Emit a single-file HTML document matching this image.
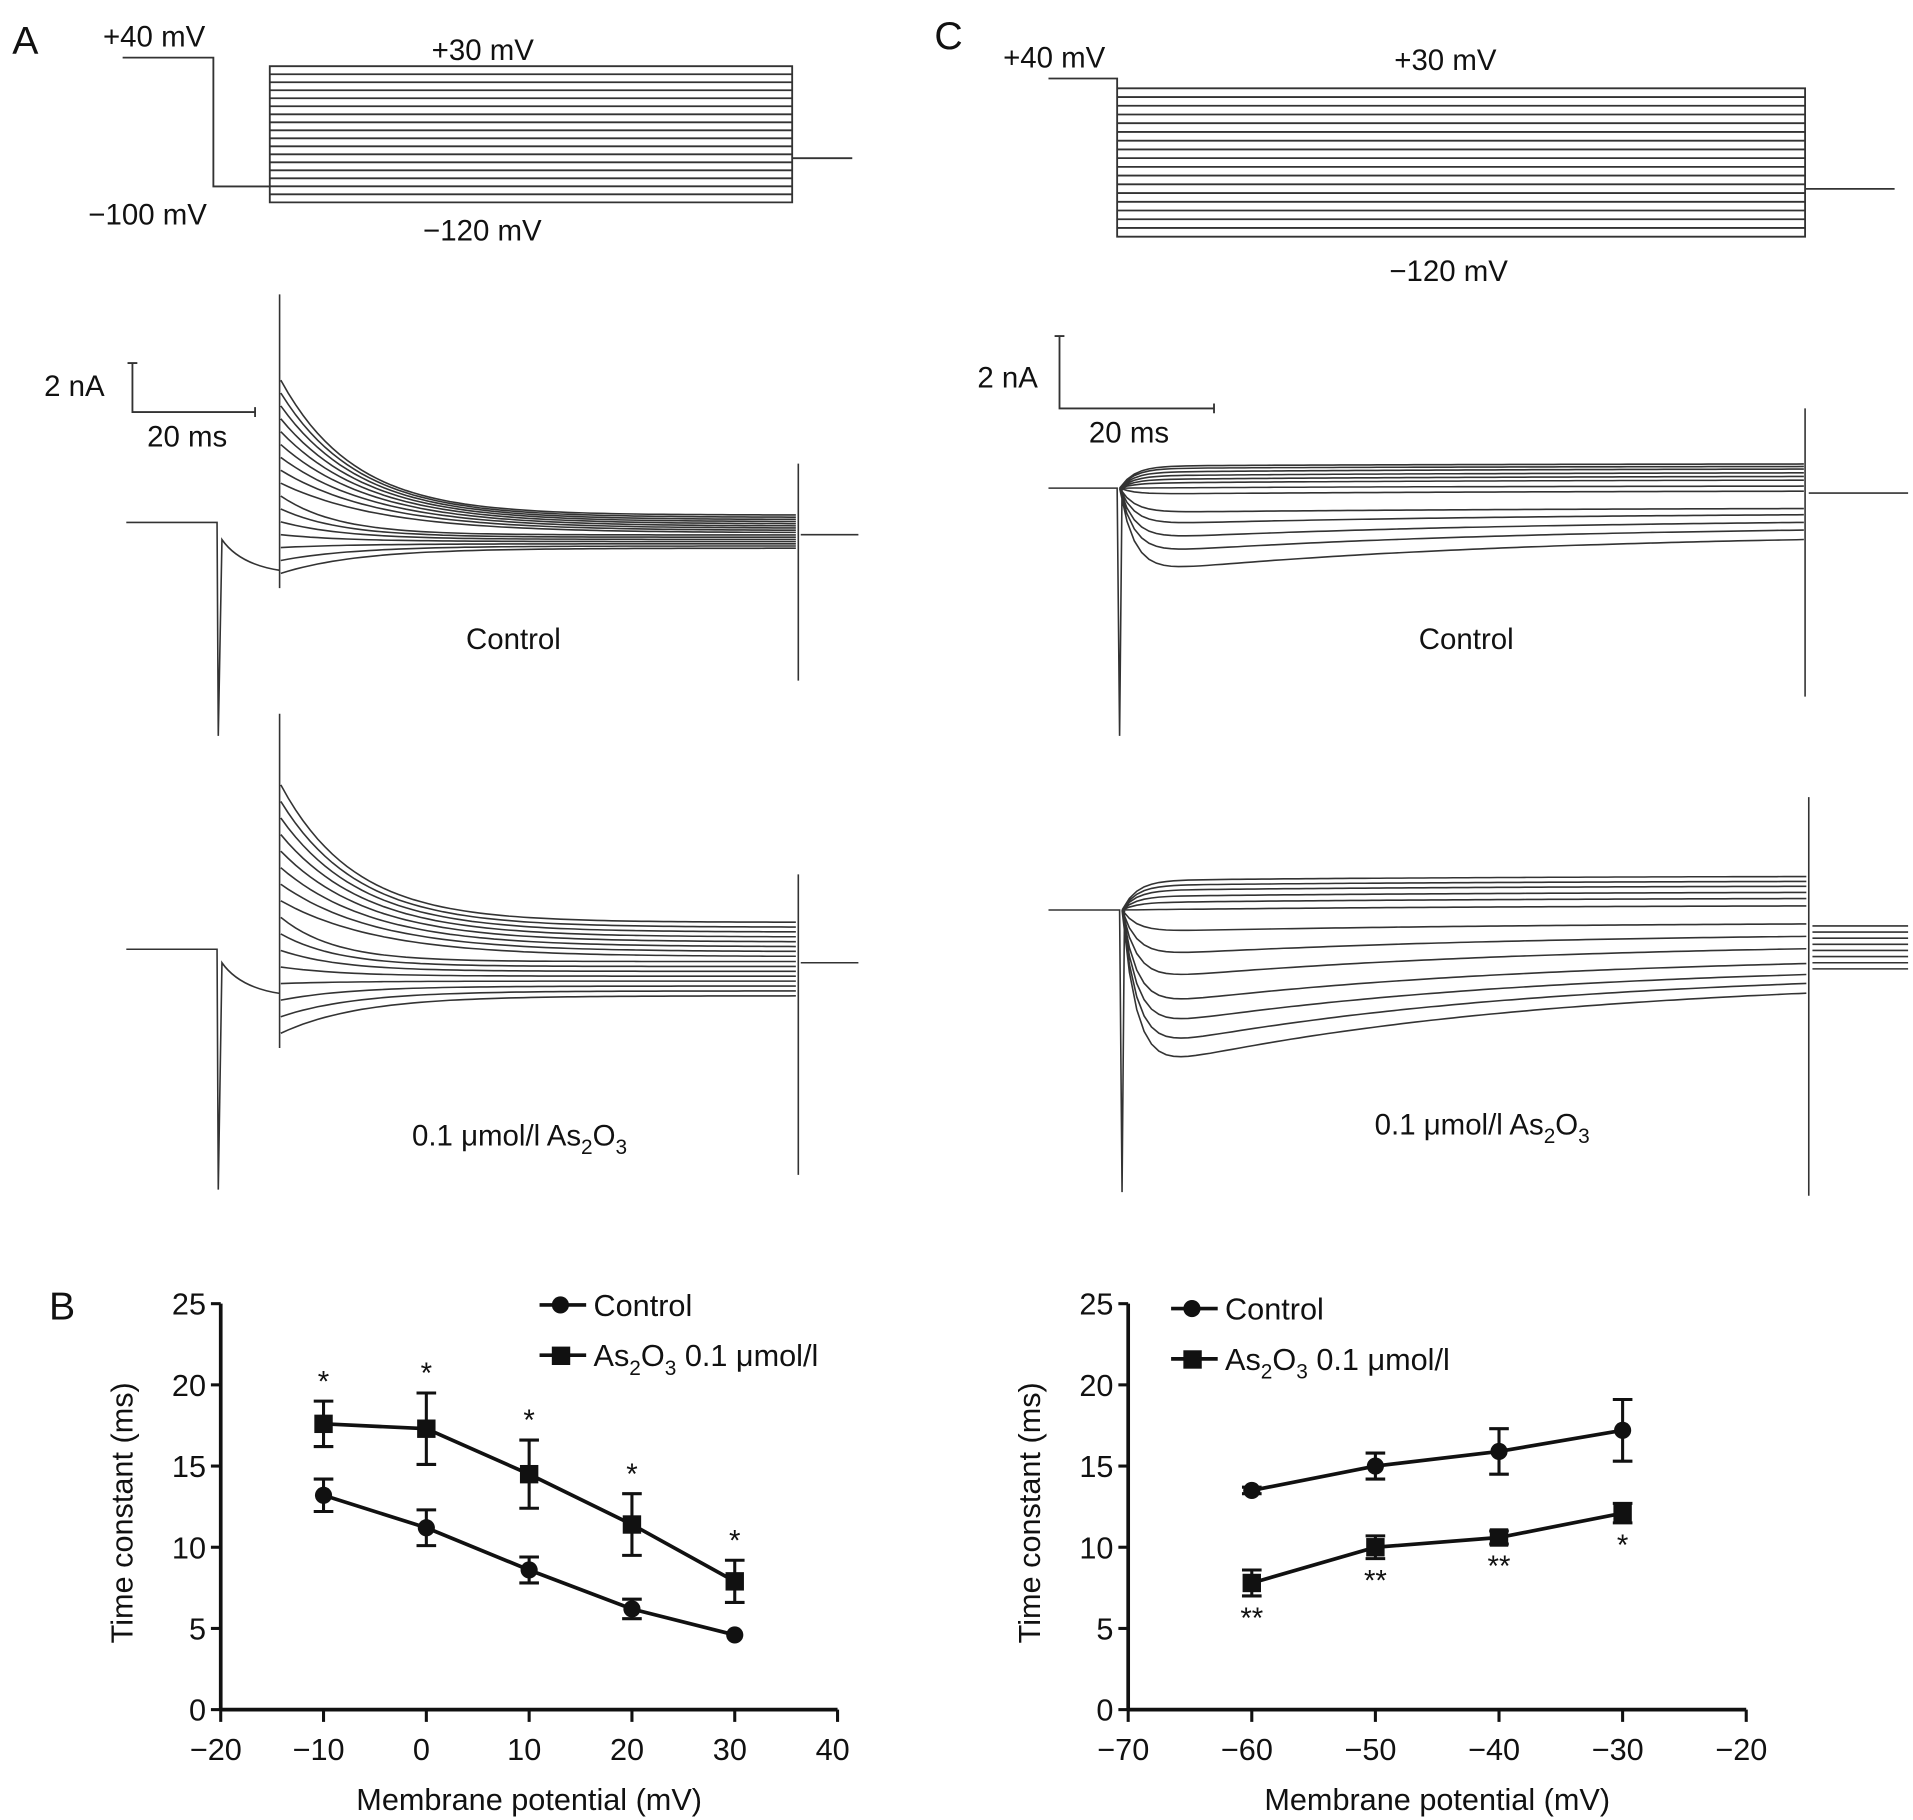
<!DOCTYPE html>
<html><head><meta charset="utf-8"><style>
html,body{margin:0;padding:0;background:#fff;}
svg{display:block;font-family:"Liberation Sans",sans-serif;}
</style></head><body>
<svg id="fig" width="1913" height="1820" viewBox="0 0 1560 1484" preserveAspectRatio="none" xmlns="http://www.w3.org/2000/svg">
<g id="traces" fill="none" stroke="#333" stroke-width="1.3"></g>
<g id="static" fill="#111" font-size="24">
<text x="10" y="44" font-size="32">A</text>
<text x="762" y="40" font-size="32">C</text>
<text x="40" y="1076" font-size="32">B</text>
<text x="84" y="38">+40 mV</text>
<text x="352" y="49">+30 mV</text>
<text x="72" y="183">−100 mV</text>
<text x="345" y="196">−120 mV</text>
<text x="818" y="55">+40 mV</text>
<text x="1137" y="57">+30 mV</text>
<text x="1133" y="229">−120 mV</text>
<text x="36" y="323">2 nA</text>
<text x="120" y="364">20 ms</text>
<text x="797" y="316">2 nA</text>
<text x="888" y="361">20 ms</text>
<text x="380" y="529">Control</text>
<text x="1157" y="529">Control</text>
<text x="336" y="934">0.1 μmol/l As<tspan font-size="17" dy="7">2</tspan><tspan dy="-7">O</tspan><tspan font-size="17" dy="7">3</tspan></text>
<text x="1121" y="925">0.1 μmol/l As<tspan font-size="17" dy="7">2</tspan><tspan dy="-7">O</tspan><tspan font-size="17" dy="7">3</tspan></text>
</g>
<g id="chartB"></g>
<g id="chartC"></g>
</svg>
<script>
// ---- Chart B data ----
const xB = [-10, 0, 10, 20, 30];
const ctrlB = [13.2, 11.2, 8.6, 6.2, 4.6];
const ctrlErrB = [1.0, 1.1, 0.8, 0.6, 0.0];
const asB = [17.6, 17.3, 14.5, 11.4, 7.9];
const asErrB = [1.4, 2.2, 2.1, 1.9, 1.3];
const sigB = ["*", "*", "*", "*", "*"];
const xTicksB = [-20, -10, 0, 10, 20, 30, 40];
const xTickLabelsB = ["−20", "−10", "0", "10", "20", "30", "40"];
// ---- Chart C data ----
const xC = [-60, -50, -40, -30];
const ctrlC = [13.5, 15.0, 15.9, 17.2];
const ctrlErrC = [0.2, 0.8, 1.4, 1.9];
const asC = [7.8, 10.0, 10.6, 12.1];
const asErrC = [0.8, 0.7, 0.4, 0.6];
const sigC = ["**", "**", "**", "*"];
const xTicksC = [-70, -60, -50, -40, -30, -20];
const xTickLabelsC = ["−70", "−60", "−50", "−40", "−30", "−20"];
const yTicks = [0, 5, 10, 15, 20, 25];
const yTickLabels = ["0", "5", "10", "15", "20", "25"];

const NS = "http://www.w3.org/2000/svg";
function mk(parent, tag, attrs, text) {
  const e = document.createElementNS(NS, tag);
  for (const k in attrs) e.setAttribute(k, attrs[k]);
  if (text !== undefined) e.textContent = text;
  parent.appendChild(e);
  return e;
}

function drawChart(gid, cfg) {
  const g = document.getElementById(gid);
  const sx = v => cfg.x0 + (v - cfg.xmin) / (cfg.xmax - cfg.xmin) * (cfg.x1 - cfg.x0);
  const sy = v => cfg.y0 - v / 25 * (cfg.y0 - cfg.y1);
  let e;
  e = mk(g, "line", {x1: cfg.x0, y1: cfg.y0, x2: cfg.x0, y2: cfg.y1, stroke: "#111", "stroke-width": 3});
  
  
  e = mk(g, "line", {x1: cfg.x0, y1: cfg.y0, x2: cfg.x1, y2: cfg.y0, stroke: "#111", "stroke-width": 3});
  
  
  yTicks.forEach((t, i) => {
    const y = sy(t);
    e = mk(g, "line", {x1: cfg.x0 - 8, y1: y, x2: cfg.x0, y2: y, stroke: "#111", "stroke-width": 2.5});
    
    
    e = mk(g, "text", {x: cfg.x0 - 12, y: y + 9, "text-anchor": "end", "font-size": 25, fill: "#111"}, yTickLabels[i]);
    
    
  });
  cfg.xTicks.forEach((t, i) => {
    const x = sx(t);
    e = mk(g, "line", {x1: x, y1: cfg.y0, x2: x, y2: cfg.y0 + 10, stroke: "#111", "stroke-width": 2.5});
    
    
    e = mk(g, "text", {x: x - 4, y: cfg.y0 + 41, "text-anchor": "middle", "font-size": 25, fill: "#111"}, cfg.xLabels[i]);
    
    
  });
  e = mk(g, "text", {x: (cfg.x0 + cfg.x1) / 2, y: cfg.y0 + 82, "text-anchor": "middle", "font-size": 25, fill: "#111"}, "Membrane potential (mV)");
  
  
  const ty = (cfg.y0 + cfg.y1) / 2 + 5, tx = cfg.x0 - 72;
  e = mk(g, "text", {x: tx, y: ty, "text-anchor": "middle", "font-size": 25, fill: "#111", transform: `rotate(-90 ${tx} ${ty})`}, "Time constant (ms)");
  
  

  function series(vals, errs, shape, name) {
    const pts = cfg.xs.map((x, i) => [sx(x), sy(vals[i])]);
    e = mk(g, "polyline", {points: pts.map(p => p.join(",")).join(" "), fill: "none", stroke: "#111", "stroke-width": 3});
    
    
    pts.forEach((p, i) => {
      const hi = sy(vals[i] + errs[i]), lo = sy(vals[i] - errs[i]);
      if (errs[i] > 0) {
        e = mk(g, "path", {d: `M${p[0]},${hi}V${lo}M${p[0]-8},${hi}H${p[0]+8}M${p[0]-8},${lo}H${p[0]+8}`, stroke: "#111", "stroke-width": 2.5, fill: "none"});
        
        
      }
      if (shape === "circle") e = mk(g, "circle", {cx: p[0], cy: p[1], r: 7, fill: "#111"});
      else e = mk(g, "rect", {x: p[0] - 7.5, y: p[1] - 7.5, width: 15, height: 15, fill: "#111"});
      
      
    });
  }
  series(cfg.ctrl, cfg.ctrlErr, "circle", "control");
  series(cfg.as, cfg.asErr, "square", "as2o3");
  cfg.xs.forEach((x, i) => {
    const y = cfg.sigAbove ? sy(cfg.as[i] + cfg.asErr[i]) - 8 : sy(cfg.as[i] - cfg.asErr[i]) + 26;
    e = mk(g, "text", {x: sx(x), y: y, "text-anchor": "middle", "font-size": 24, fill: "#111"}, cfg.sig[i]);
    
    
  });
  // legend
  const lx = cfg.legX, ly = cfg.legY;
  e = mk(g, "g", {});
  
  
  const lg = e;
  e = mk(lg, "line", {x1: lx, y1: ly, x2: lx + 38, y2: ly, stroke: "#111", "stroke-width": 3});
  
  
  e = mk(lg, "circle", {cx: lx + 17, cy: ly, r: 7, fill: "#111"});
  
  
  e = mk(lg, "text", {x: lx + 44, y: ly + 9, "font-size": 25, fill: "#111"}, "Control");
  
  
  e = mk(lg, "line", {x1: lx, y1: ly + 41, x2: lx + 38, y2: ly + 41, stroke: "#111", "stroke-width": 3});
  
  
  e = mk(lg, "rect", {x: lx + 10, y: ly + 34, width: 15, height: 15, fill: "#111"});
  
  
  e = mk(lg, "text", {x: lx + 44, y: ly + 50, "font-size": 25, fill: "#111"});
  e.innerHTML = 'As<tspan font-size="17" dy="7">2</tspan><tspan dy="-7">O</tspan><tspan font-size="17" dy="7">3</tspan><tspan dy="-7"> 0.1 μmol/l</tspan>';
  
  
}

drawChart("chartB", {x0: 180, x1: 683, y0: 1394, y1: 1063, xmin: -20, xmax: 40, xs: xB, ctrl: ctrlB, ctrlErr: ctrlErrB, as: asB, asErr: asErrB, sig: sigB, sigAbove: true, xTicks: xTicksB, xLabels: xTickLabelsB, legX: 440, legY: 1064});
drawChart("chartC", {x0: 920, x1: 1424, y0: 1394, y1: 1063, xmin: -70, xmax: -20, xs: xC, ctrl: ctrlC, ctrlErr: ctrlErrC, as: asC, asErr: asErrC, sig: sigC, sigAbove: false, xTicks: xTicksC, xLabels: xTickLabelsC, legX: 955, legY: 1067});

// ---- illustrative traces (voltage protocols & current families) ----
const tg = document.getElementById("traces");
function P(d, name, w) {
  const e = mk(tg, "path", {d: d, "stroke-width": w || 1.3});
  
  
}
function protocol(xa, yPlus, xStep, yHold, xB0, xB1, yTop, yBot, yEnd, xEnd, n, name) {
  let d = `M${xa},${yPlus}H${xStep}V${yHold}H${xB0}M${xB0},${yTop}H${xB1}V${yBot}H${xB0}Z`;
  for (let k = 1; k < n; k++) { const y = yTop + (yBot - yTop) * k / n; d += `M${xB0},${y}H${xB1}`; }
  d += `M${xB1},${yEnd}H${xEnd}`;
  P(d, name, 1.5);
}
protocol(100, 47, 174, 152, 220, 646, 54, 165, 129, 695, 17, "protocol-a");
protocol(855, 64, 911, 193, 911, 1472, 72, 193, 154, 1545, 17, "protocol-c");
// scale bars
P("M108,296V336H208M104,296H112M208,332V340", "scale-bar-a", 1.5);
P("M864,274V333H990M860,274H868M990,329V337", "scale-bar-c", 1.5);

function familyA(base, spikeDown, recov, x0, x1, starts, ends, endBase, spikeUp, spikeEndUp, spikeEndDown, name) {
  let d = `M103,${base}H177L178,${spikeDown}L181,${recov - 20}Q195,${recov} 228,${recov + 5}`;
  d += `M228,${spikeUp}V${starts[starts.length-1] + 12}`;
  for (let k = 0; k < starts.length; k++) {
    const s = starts[k], e2 = ends[k];
    const tau = 20 + k * 3 + (s < e2 - 40 ? 40 : 0);
    d += `M229,${s}`;
    for (let t = 0; t <= x1 - 229; t += 6) d += `L${229 + t},${(e2 + (s - e2) * Math.exp(-t / tau)).toFixed(1)}`;
  }
  d += `M651,${spikeEndUp}V${spikeEndDown}M653,${endBase}H700`;
  P(d, name);
}
const aCtrlStarts = [], aCtrlEnds = [], aAsStarts = [], aAsEnds = [];
for (let k = 0; k < 16; k++) {
  aCtrlStarts.push(310 + k * 10.5); aCtrlEnds.push(420 + k * 1.8);
  aAsStarts.push(640 + k * 13.5); aAsEnds.push(752 + k * 4);
}
familyA(426, 600, 460, 228, 651, aCtrlStarts, aCtrlEnds, 436, 240, 378, 555, "control-current-traces-a");
familyA(774, 970, 805, 228, 651, aAsStarts, aAsEnds, 785, 582, 713, 958, "as2o3-current-traces-a");

function familyC(base, xs, xe, spikeDown, mins, ends, spikeEndUp, spikeEndDown, tails, name) {
  let d = `M855,${base}H${xs}L${xs + 2},${spikeDown}L${xs + 4},${base}`;
  for (let k = 0; k < mins.length; k++) {
    const m = mins[k], e2 = ends[k];
    d += `M${xs + 2},${base}`;
    for (let t = 0; t <= xe - xs; t += 6) {
      const y = e2 + (m - e2) * Math.exp(-t / 320) + (base - m) * Math.exp(-t / 12);
      d += `L${xs + 2 + t},${y.toFixed(1)}`;
    }
  }
  d += `M${xe},${spikeEndUp}V${spikeEndDown}`;
  tails.forEach(t => { d += `M${xe + 3},${t}H1556`; });
  P(d, name);
}
const cCtrlMins = [380, 382, 385, 388, 391, 394, 398, 403, 418, 428, 440, 452, 468];
const cCtrlEnds = [378, 380, 382, 385, 388, 391, 396, 400, 414, 418, 423, 428, 434];
const cAsMins = [718, 722, 726, 731, 736, 742, 760, 780, 800, 822, 840, 858, 875];
const cAsEnds = [714, 718, 722, 727, 732, 738, 752, 760, 768, 778, 785, 790, 796];
familyC(398, 911, 1472, 600, cCtrlMins, cCtrlEnds, 333, 568, [402], "control-current-traces-c");
familyC(742, 913, 1475, 972, cAsMins, cAsEnds, 650, 975, [755, 760, 765, 770, 775, 780, 785, 790], "as2o3-current-traces-c");
</script>
</body></html>
